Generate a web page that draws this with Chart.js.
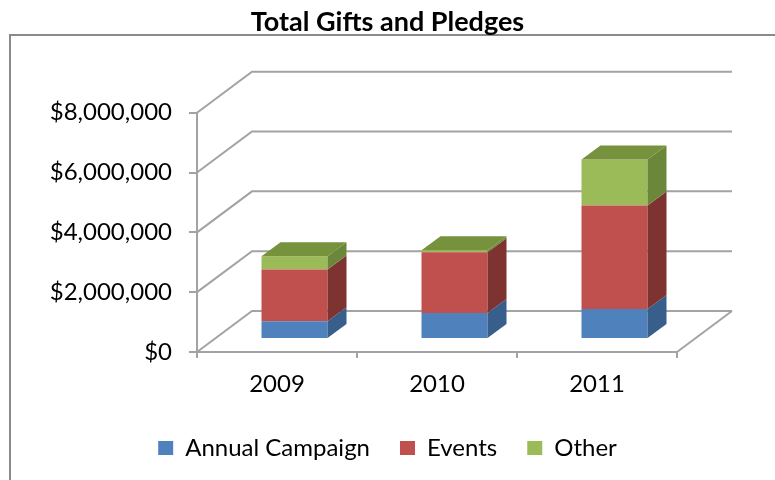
<!DOCTYPE html>
<html>
<head>
<meta charset="utf-8">
<script src="https://cdn.jsdelivr.net/npm/chart.js@4"></script>
<style>
  html, body { margin: 0; padding: 0; background: #fff; }
  canvas { display: block; }
</style>
</head>
<body>
<canvas id="giftsChart" width="775" height="480"></canvas>
<script>
const years = ['2009', '2010', '2011'];
const annualCampaign = [590000, 870000, 1000000];
const events = [1730000, 2030000, 3460000];
const other = [450000, 70000, 1540000];
const yTicks = [0, 2000000, 4000000, 6000000, 8000000];

const frontColors = ['#4F81BD', '#C0504D', '#9BBB59'];
const sideColors = ['#385E8B', '#7E3331', '#6B873A'];
const topColors = ['#4A75A8', '#A04441', '#76923C'];

// wall depth and bar offset for the fake 3D look
const WALL_DX = 55, WALL_DY = -41;
const BAR_DX = 17.5, BAR_DY = -13;
const DEPTH_DX = 19, DEPTH_DY = -14;
const lineGray = '#A3A3A3';
const FONT = 'Lato';

const frame3d = {
  id: 'frame3d',
  beforeDraw(chart) {
    const ctx = chart.ctx;
    ctx.save();
    ctx.strokeStyle = '#8A8A8A';
    ctx.lineWidth = 2;
    ctx.strokeRect(10, 35, 900, 600);
    ctx.restore();
  },
  beforeDatasetsDraw(chart) {
    const ctx = chart.ctx;
    const { left, right, bottom } = chart.chartArea;
    const yScale = chart.scales.y;
    ctx.save();
    ctx.strokeStyle = lineGray;
    ctx.lineWidth = 2;
    yTicks.forEach(v => {
      const py = yScale.getPixelForValue(v);
      ctx.beginPath();
      ctx.moveTo(left, py);
      ctx.lineTo(left + WALL_DX, py + WALL_DY);
      ctx.lineTo(right + WALL_DX, py + WALL_DY);
      ctx.stroke();
    });
    // floor right edge
    ctx.beginPath();
    ctx.moveTo(right, bottom);
    ctx.lineTo(right + WALL_DX, bottom + WALL_DY);
    ctx.stroke();
    ctx.restore();

    ctx.save();
    ctx.translate(BAR_DX, BAR_DY);
  },
  afterDatasetsDraw(chart) {
    const ctx = chart.ctx;
    const count = chart.data.labels.length;
    for (let j = 0; j < count; j++) {
      let topIdx = -1;
      chart.data.datasets.forEach((ds, i) => {
        if (ds.data[j] > 0) topIdx = i;
      });
      chart.data.datasets.forEach((ds, i) => {
        const el = chart.getDatasetMeta(i).data[j];
        const { x, y, base, width } = el.getProps(['x', 'y', 'base', 'width'], true);
        const L = x - width / 2, R = x + width / 2;
        ctx.fillStyle = sideColors[i];
        ctx.beginPath();
        ctx.moveTo(R, y);
        ctx.lineTo(R + DEPTH_DX, y + DEPTH_DY);
        ctx.lineTo(R + DEPTH_DX, base + DEPTH_DY);
        ctx.lineTo(R, base);
        ctx.closePath();
        ctx.fill();
        if (i === topIdx) {
          ctx.fillStyle = topColors[i];
          ctx.beginPath();
          ctx.moveTo(L, y);
          ctx.lineTo(L + DEPTH_DX, y + DEPTH_DY);
          ctx.lineTo(R + DEPTH_DX, y + DEPTH_DY);
          ctx.lineTo(R, y);
          ctx.closePath();
          ctx.fill();
        }
      });
    }
    ctx.restore();
  }
};

new Chart(document.getElementById('giftsChart'), {
  type: 'bar',
  data: {
    labels: years,
    datasets: [
      { label: 'Annual Campaign', data: annualCampaign, backgroundColor: frontColors[0] },
      { label: 'Events', data: events, backgroundColor: frontColors[1] },
      { label: 'Other', data: other, backgroundColor: frontColors[2] }
    ]
  },
  options: {
    responsive: false,
    devicePixelRatio: 1,
    animation: false,
    clip: false,
    categoryPercentage: 1,
    barPercentage: 0.4125,
    layout: { padding: { left: 0, right: 0, top: 0, bottom: 10 } },
    plugins: {
      title: {
        display: true,
        text: 'Total Gifts and Pledges',
        color: '#000',
        font: { family: FONT, size: 27, weight: 'bold' },
        padding: { top: 6, bottom: 74.3 }
      },
      legend: {
        position: 'bottom',
        labels: {
          color: '#000',
          font: { family: FONT, size: 24 },
          boxWidth: 15,
          boxHeight: 14,
          padding: 30
        }
      },
      tooltip: { enabled: false }
    },
    scales: {
      x: {
        stacked: true,
        afterFit: s => { s.height = 54; },
        grid: { drawOnChartArea: false, tickLength: 6, color: lineGray, lineWidth: 2, offset: true },
        border: { color: lineGray, width: 2 },
        ticks: { color: '#000', font: { family: FONT, size: 24 }, padding: 12 }
      },
      y: {
        stacked: true,
        min: 0,
        max: 8000000,
        afterFit: s => { s.width = 197; },
        afterBuildTicks: s => { s.ticks = yTicks.map(v => ({ value: v })); },
        grid: { drawOnChartArea: false, tickLength: 8, color: lineGray, lineWidth: 2 },
        border: { color: lineGray, width: 2 },
        ticks: {
          color: '#000',
          font: { family: FONT, size: 24 },
          padding: 17,
          callback: v => '$' + Number(v).toLocaleString('en-US')
        }
      },
      yRight: {
        position: 'right',
        afterFit: s => { s.width = 98; },
        grid: { display: false },
        border: { display: false },
        ticks: { display: false }
      }
    }
  },
  plugins: [frame3d]
});
</script>
</body>
</html>
